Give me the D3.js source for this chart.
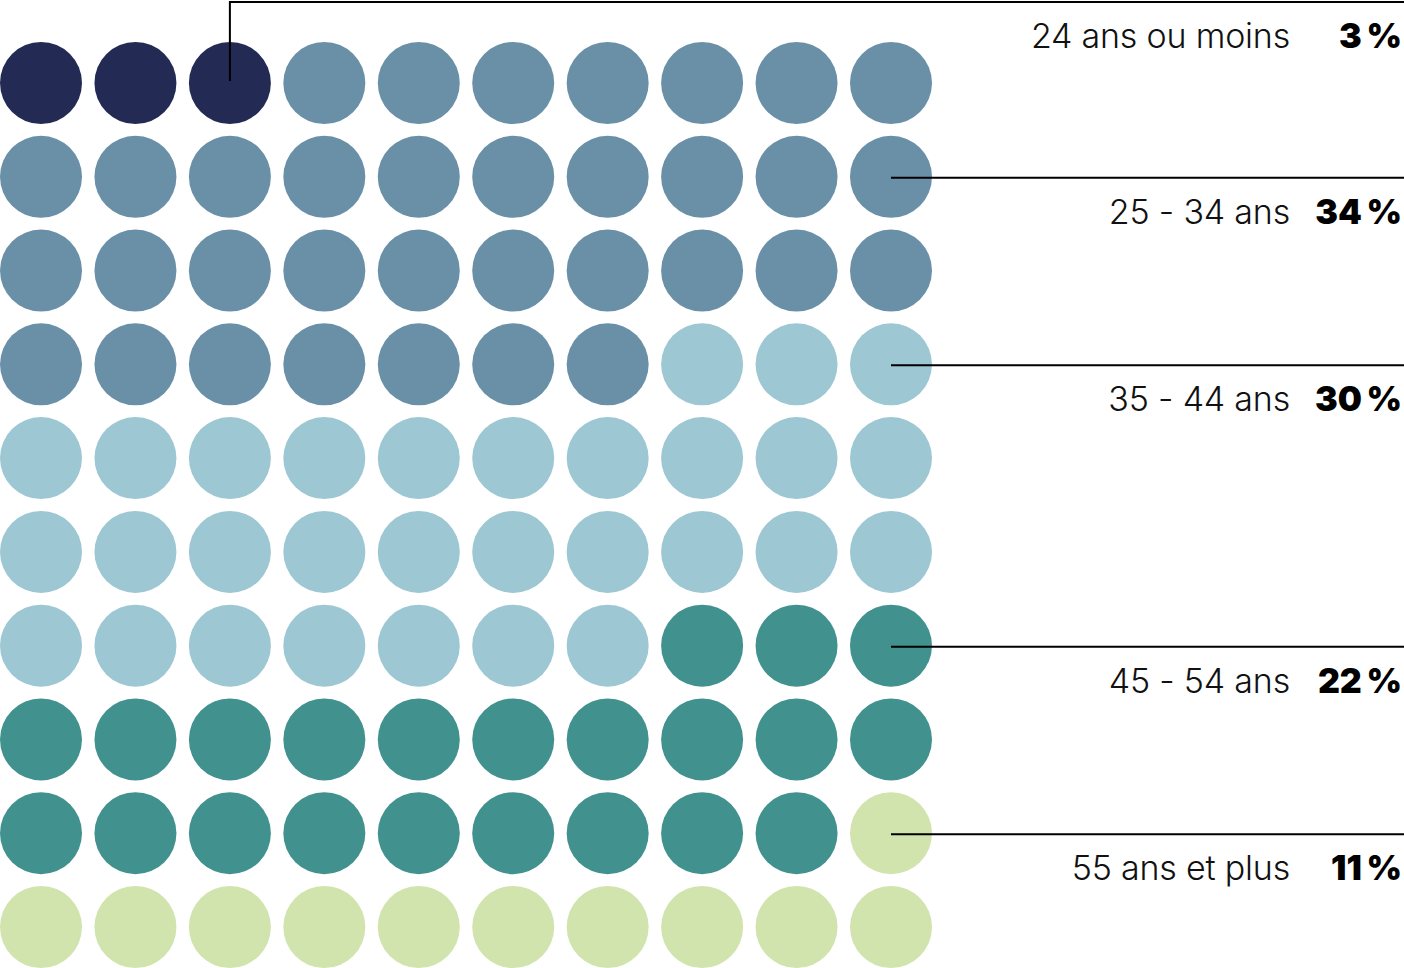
<!DOCTYPE html>
<html>
<head>
<meta charset="utf-8">
<script src="https://cdn.jsdelivr.net/npm/d3@7"></script>
<style>
  body { margin: 0; background: #fff; }
  svg { display: block; font-family: Inter, "Noto Sans", sans-serif; }
  .label { font-weight: 300; font-size: 34px; letter-spacing: -0.2px; fill: #111; }
  .value { font-weight: 900; font-size: 34px; letter-spacing: -0.3px; fill: #000; }
</style>
</head>
<body>
<div id="chart"></div>
<script>
// age groups, share in %
const categories = ['24 ans ou moins', '25 - 34 ans', '35 - 44 ans', '45 - 54 ans', '55 ans et plus'];
const values = [3, 34, 30, 22, 11];
const colors = ['#232b54', '#6a90a8', '#9cc7d3', '#41918e', '#d1e4ae'];
// cell (row * 10 + col) each leader line starts from
const anchorCells = [2, 19, 39, 69, 89];

const width = 1404, height = 968;
const cols = 10, rows = 10, radius = 41;

const svg = d3.select('#chart').append('svg')
    .attr('width', width)
    .attr('height', height)
    .attr('viewBox', `0 0 ${width} ${height}`);

const x = d3.scaleLinear().domain([0, cols - 1]).range([41, 891]);
const y = d3.scaleLinear().domain([0, rows - 1]).range([83, 927]);

// one cell per percent point, filled row by row
const cells = [];
values.forEach((v, i) => {
    for (let k = 0; k < v; k++) cells.push(i);
});

svg.append('g')
    .selectAll('circle')
    .data(cells)
    .join('circle')
    .attr('cx', (d, i) => x(i % cols))
    .attr('cy', (d, i) => y(Math.floor(i / cols)))
    .attr('r', radius)
    .attr('fill', d => colors[d]);

const topY = 2;
const labelRight = 1290, valueRight = 1402;

const legend = svg.append('g');

categories.forEach((name, i) => {
    const cell = anchorCells[i];
    const cx = x(cell % cols), cy = y(Math.floor(cell / cols)) + 1;
    // first group: elbow up to the top edge
    const lineY = i === 0 ? topY : cy;
    const pts = i === 0
        ? [[cx, cy - 3], [cx, lineY], [width, lineY]]
        : [[cx, lineY], [width, lineY]];

    legend.append('path')
        .attr('d', d3.line()(pts))
        .attr('fill', 'none')
        .attr('stroke', '#000')
        .attr('stroke-width', 2);

    legend.append('text')
        .attr('class', 'label')
        .attr('x', labelRight)
        .attr('y', lineY + 46)
        .attr('text-anchor', 'end')
        .text(name);

    legend.append('text')
        .attr('class', 'value')
        .attr('x', valueRight)
        .attr('y', lineY + 46)
        .attr('text-anchor', 'end')
        .text(values[i] + '\u202f%');
});
</script>
</body>
</html>
